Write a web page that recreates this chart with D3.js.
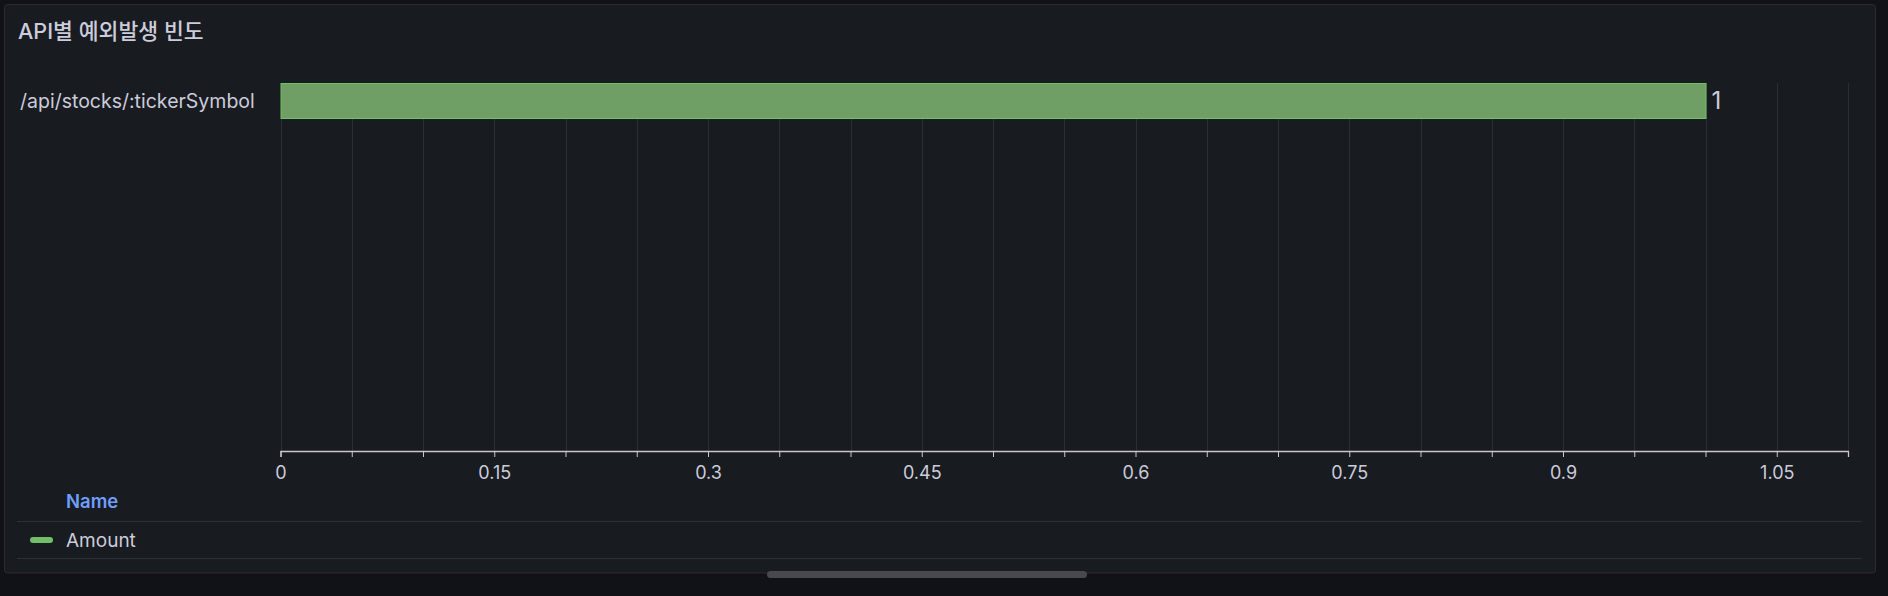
<!DOCTYPE html>
<html>
<head>
<meta charset="utf-8">
<script src="https://cdn.jsdelivr.net/npm/d3@7"></script>
<style>
  html, body { margin: 0; padding: 0; background: #111217; }
  svg { display: block; font-family: Inter, "Noto Sans CJK KR", sans-serif; }
</style>
</head>
<body>
<svg id="chart" width="1888" height="596"></svg>
<script>
// ---- data ----
const title = "API별 예외발생 빈도";
const categories = ["/api/stocks/:tickerSymbol"];
const amounts = [1];
const seriesName = "Amount";
const tickValues = [0, 0.05, 0.1, 0.15, 0.2, 0.25, 0.3, 0.35, 0.4, 0.45, 0.5, 0.55, 0.6, 0.65, 0.7, 0.75, 0.8, 0.85, 0.9, 0.95, 1, 1.05, 1.1];
const tickLabels = ["0", "0.15", "0.3", "0.45", "0.6", "0.75", "0.9", "1.05"];
const xDomain = [0, 1.1];

// ---- drawing ----
const svg = d3.select("#chart");
const textColor = "#ccccdc";
const green = "#73bf69";

// panel
svg.append("rect").attr("x", 4.5).attr("y", 4.5).attr("width", 1871).attr("height", 568.5)
  .attr("rx", 3).attr("fill", "#181b1f").attr("stroke", "#2a2c31").attr("stroke-width", 1);

svg.append("text").attr("x", 18).attr("y", 38.5).attr("fill", textColor)
  .attr("font-size", 21.6).attr("font-weight", 500).text(title);

const plotLeft = 280.5, plotRight = 1848, axisY = 451;
const x = d3.scaleLinear().domain(xDomain).range([plotLeft, plotRight]);
const y = d3.scaleBand().domain(categories).range([65, 137]).paddingInner(0.5).paddingOuter(0.25);

// grid
svg.append("g").selectAll("line").data(tickValues).join("line")
  .attr("x1", d => Math.round(x(d)) + 0.5).attr("x2", d => Math.round(x(d)) + 0.5)
  .attr("y1", y(categories[0])).attr("y2", axisY)
  .attr("stroke", "rgba(240,250,255,0.09)").attr("stroke-width", 1);

// bars
svg.append("g").selectAll("rect").data(categories).join("rect")
  .attr("x", x(0) + 0.5)
  .attr("y", d => y(d) + 0.5)
  .attr("width", (d, i) => x(amounts[i]) - x(0))
  .attr("height", y.bandwidth() - 1)
  .attr("fill", "#709f65")
  .attr("stroke", green).attr("stroke-width", 1);

// value labels
svg.append("g").selectAll("text").data(categories).join("text")
  .attr("x", (d, i) => x(amounts[i]) + 6)
  .attr("y", d => y(d) + y.bandwidth() / 2)
  .attr("dy", "0.35em")
  .attr("fill", textColor).attr("font-size", 24)
  .text((d, i) => amounts[i]);

// category labels
svg.append("g").selectAll("text").data(categories).join("text")
  .attr("x", 20)
  .attr("y", d => y(d) + y.bandwidth() / 2)
  .attr("dy", "0.35em")
  .attr("fill", textColor).attr("font-size", 19.5)
  .text(d => d);

// x axis
const fmt = d3.format("~g");
const axis = d3.axisBottom(x).tickValues(tickValues).tickSize(6).tickPadding(9)
  .tickFormat(d => { const s = fmt(+d.toFixed(2)); return tickLabels.includes(s) ? s : ""; });
const gx = svg.append("g").attr("transform", `translate(0,${axisY})`).call(axis);
gx.select(".domain").attr("stroke", "#c7c7d1").attr("stroke-width", 1.3);
gx.selectAll(".tick line").attr("stroke", "#c7c7d1");
gx.selectAll(".tick text").attr("fill", textColor).attr("font-size", 18).attr("font-family", "Inter, sans-serif");

// legend
svg.append("text").attr("x", 66).attr("y", 502).attr("dy", "0.35em")
  .attr("fill", "#6e9fff").attr("font-size", 18.5).attr("font-weight", 600).text("Name");
svg.append("line").attr("x1", 17).attr("x2", 1862).attr("y1", 521.5).attr("y2", 521.5)
  .attr("stroke", "rgba(204,204,220,0.12)");
svg.append("rect").attr("x", 30).attr("y", 537).attr("width", 23).attr("height", 6).attr("rx", 3)
  .attr("fill", green);
svg.append("text").attr("x", 66).attr("y", 540.5).attr("dy", "0.35em")
  .attr("fill", textColor).attr("font-size", 19).text(seriesName);
svg.append("line").attr("x1", 17).attr("x2", 1862).attr("y1", 558.5).attr("y2", 558.5)
  .attr("stroke", "rgba(204,204,220,0.12)");

// scrollbar
svg.append("rect").attr("x", 767).attr("y", 571).attr("width", 320).attr("height", 7).attr("rx", 3.5)
  .attr("fill", "#47494f");
</script>
</body>
</html>
